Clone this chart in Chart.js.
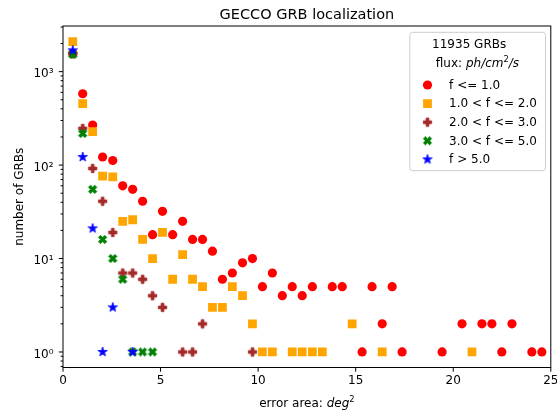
<!DOCTYPE html>
<html>
<head>
<meta charset="utf-8">
<script src="https://cdn.jsdelivr.net/npm/chart.js@4"></script>
<style>
  html, body { margin: 0; padding: 0; background: #fff; }
  #chart { display: block; }
</style>
</head>
<body>
<canvas id="chart" width="557" height="416"></canvas>
<script>
const titleText = 'GECCO GRB localization';
const yAxisTitle = 'number of GRBs';
const legendTitle = '11935 GRBs';
const seriesLabels = ['f <= 1.0', '1.0 < f <= 2.0', '2.0 < f <= 3.0', '3.0 < f <= 5.0', 'f > 5.0'];

// error area bins (deg^2) and counts
const redX = [0.50, 1.01, 1.52, 2.03, 2.55, 3.06, 3.57, 4.08, 4.59, 5.10, 5.62, 6.13, 6.64, 7.15, 7.66, 8.17, 8.68, 9.20, 9.71, 10.22,
  10.73, 11.24, 11.75, 12.26, 12.78, 13.80, 14.31, 15.33, 15.84, 16.36, 16.87, 17.38, 19.43, 20.45, 21.47, 21.98, 22.49, 23.01, 24.03, 24.54];
const redY = [1560, 580, 268, 122, 112, 60, 55, 41, 18, 32, 18, 25, 16, 16, 12, 6, 7, 9, 10, 5,
  7, 4, 5, 4, 5, 5, 5, 1, 5, 2, 5, 1, 1, 2, 2, 2, 1, 2, 1, 1];

const orangeX = [0.50, 1.01, 1.52, 2.03, 2.55, 3.06, 3.57, 4.08, 4.59, 5.10, 5.62, 6.13, 6.64, 7.15, 7.66, 8.17, 8.68, 9.20, 9.71, 10.22,
  10.73, 11.75, 12.26, 12.78, 13.29, 14.82, 16.36, 20.96];
const orangeY = [2100, 454, 228, 76, 75, 25, 26, 16, 10, 19, 6, 11, 6, 5, 3, 3, 5, 4, 2, 1,
  1, 1, 1, 1, 1, 2, 1, 1];

const brownX = [0.50, 1.01, 1.52, 2.03, 2.55, 3.06, 3.57, 4.08, 4.59, 5.10, 6.13, 6.64, 7.15, 9.71];
const brownY = [1550, 247, 92, 41, 19, 7, 7, 6, 4, 3, 1, 1, 2, 1];

const greenX = [0.50, 1.01, 1.52, 2.03, 2.55, 3.06, 3.57, 4.08, 4.59];
const greenY = [1530, 218, 55, 16, 10, 6, 1, 1, 1];

const blueX = [0.50, 1.01, 1.52, 2.03, 2.55, 3.57];
const blueY = [1690, 122, 21, 1, 3, 1];

const xTickValues = [0, 5, 10, 15, 20, 25];
const yMajorTicks = [1, 10, 100, 1000];
const yTickLabels = ['10\u2070', '10\u00b9', '10\u00b2', '10\u00b3'];

const FAMILY = '"DejaVu Sans", sans-serif';
const INK = '#000';

// minor ticks 1..9 per decade, like matplotlib's log axis
const yMin = 0.682, yMax = 3080;
const yTickValues = [];
for (let e = -1; e <= 3; e++) {
  for (let m = 1; m <= 9; m++) {
    const v = +(m * Math.pow(10, e)).toPrecision(3);
    if (v >= yMin && v <= yMax) yTickValues.push(v);
  }
}

// filled marker shapes (matplotlib 'P', 'X', '*')
function makeMarker(kind, color, size) {
  const c = document.createElement('canvas');
  c.width = c.height = Math.ceil(size) + 4;
  const g = c.getContext('2d');
  g.translate(c.width / 2, c.height / 2);
  let pts;
  if (kind === 'plus') {
    pts = [[-1,-3],[1,-3],[1,-1],[3,-1],[3,1],[1,1],[1,3],[-1,3],[-1,1],[-3,1],[-3,-1],[-1,-1]]
      .map(p => [p[0] * size / 6, p[1] * size / 6]);
  } else if (kind === 'x') {
    pts = [[-1,-2],[0,-1],[1,-2],[2,-1],[1,0],[2,1],[1,2],[0,1],[-1,2],[-2,1],[-1,0],[-2,-1]]
      .map(p => [p[0] * size / 4, p[1] * size / 4]);
  } else {
    pts = [];
    for (let i = 0; i < 10; i++) {
      const r = (i % 2 ? 0.381966 : 1) * size / 2;
      const ang = -Math.PI / 2 + i * Math.PI / 5;
      pts.push([r * Math.cos(ang), r * Math.sin(ang)]);
    }
  }
  g.beginPath();
  pts.forEach((p, i) => i ? g.lineTo(p[0], p[1]) : g.moveTo(p[0], p[1]));
  g.closePath();
  g.fillStyle = color;
  g.strokeStyle = color;
  g.lineWidth = 0.8;
  g.fill();
  g.stroke();
  return c;
}

const plusImg = makeMarker('plus', '#a52a2a', 8.4);
const xImg = makeMarker('x', '#008000', 8.4);
const starImg = makeMarker('star', '#0000ff', 10);

function points(xs, ys) {
  return xs.map((x, i) => ({ x: x, y: ys[i] }));
}

const datasets = [
  { label: seriesLabels[0], data: points(redX, redY), pointStyle: 'circle', pointRadius: 4.6,
    backgroundColor: '#ff0000', borderColor: '#ff0000', borderWidth: 0, order: 5 },
  { label: seriesLabels[1], data: points(orangeX, orangeY), pointStyle: 'rect', pointRadius: 6.2,
    backgroundColor: '#ffa500', borderColor: '#ffa500', borderWidth: 0, order: 4 },
  { label: seriesLabels[2], data: points(brownX, brownY), pointStyle: plusImg, pointRadius: 4,
    backgroundColor: '#a52a2a', borderColor: '#a52a2a', borderWidth: 0, order: 3 },
  { label: seriesLabels[3], data: points(greenX, greenY), pointStyle: xImg, pointRadius: 4,
    backgroundColor: '#008000', borderColor: '#008000', borderWidth: 0, order: 2 },
  { label: seriesLabels[4], data: points(blueX, blueY), pointStyle: starImg, pointRadius: 4,
    backgroundColor: '#0000ff', borderColor: '#0000ff', borderWidth: 0, order: 1 }
];

function drawRich(ctx, parts, x, y, center) {
  let w = 0;
  parts.forEach(p => { ctx.font = p.font; w += ctx.measureText(p.text).width; });
  let cx = center ? x - w / 2 : x;
  ctx.textAlign = 'left';
  ctx.textBaseline = 'alphabetic';
  parts.forEach(p => {
    ctx.font = p.font;
    ctx.fillText(p.text, cx, y + (p.dy || 0));
    cx += ctx.measureText(p.text).width;
  });
}

function drawMarker(ctx, ds, x, y) {
  const st = ds.pointStyle;
  ctx.fillStyle = ds.backgroundColor;
  if (st === 'circle') {
    ctx.beginPath();
    ctx.arc(x, y, ds.pointRadius, 0, Math.PI * 2);
    ctx.fill();
  } else if (st === 'rect') {
    const h = ds.pointRadius * Math.SQRT1_2;
    ctx.fillRect(x - h, y - h, 2 * h, 2 * h);
  } else {
    ctx.drawImage(st, x - st.width / 2, y - st.height / 2);
  }
}

const normal = '12px ' + FAMILY;
const italic = 'italic 12px ' + FAMILY;
const sup = '8.4px ' + FAMILY;

const overlay = {
  id: 'overlay',
  afterDraw(chart) {
    const { ctx, chartArea: a } = chart;
    const xs = chart.scales.x, ys = chart.scales.y;
    ctx.save();

    // frame
    ctx.strokeStyle = INK;
    ctx.lineWidth = 1;
    ctx.strokeRect(a.left, a.top, a.right - a.left, a.bottom - a.top);

    // tick marks (outside, shorter minors)
    ctx.beginPath();
    xs.ticks.forEach(t => {
      const px = xs.getPixelForValue(t.value);
      ctx.moveTo(px, a.bottom);
      ctx.lineTo(px, a.bottom + 4.2);
    });
    ys.ticks.forEach(t => {
      const py = ys.getPixelForValue(t.value);
      const len = yMajorTicks.includes(t.value) ? 4.2 : 2.4;
      ctx.moveTo(a.left, py);
      ctx.lineTo(a.left - len, py);
    });
    ctx.stroke();

    // title
    ctx.fillStyle = INK;
    ctx.font = '14.5px ' + FAMILY;
    ctx.textAlign = 'center';
    ctx.textBaseline = 'alphabetic';
    ctx.fillText(titleText, (a.left + a.right) / 2, a.top - 6.7);

    // x axis label
    drawRich(ctx, [
      { text: 'error area: ', font: normal },
      { text: 'deg', font: italic },
      { text: '2', font: sup, dy: -4.6 }
    ], (a.left + a.right) / 2, a.bottom + 39.2, true);

    // legend
    const w = 135.7, h = 138.4;
    const lx = a.right - 5.3 - w, ly = a.top + 6.3;
    ctx.beginPath();
    ctx.roundRect(lx, ly, w, h, 3);
    ctx.fillStyle = 'rgba(255,255,255,0.8)';
    ctx.fill();
    ctx.strokeStyle = '#cccccc';
    ctx.stroke();

    ctx.fillStyle = INK;
    drawRich(ctx, [{ text: legendTitle, font: normal }], lx + 22.3, ly + 16, false);
    drawRich(ctx, [
      { text: 'flux: ', font: normal },
      { text: 'ph/cm', font: italic },
      { text: '2', font: sup, dy: -4.6 },
      { text: '/s', font: italic }
    ], lx + 26, ly + 34.4, false);

    chart.data.datasets.forEach((ds, i) => {
      const ry = ly + 52.7 + i * 18.6;
      drawMarker(ctx, ds, lx + 17.7, ry);
      ctx.fillStyle = INK;
      drawRich(ctx, [{ text: ds.label, font: normal }], lx + 39.3, ry + 3.8, false);
    });

    ctx.restore();
  }
};

new Chart(document.getElementById('chart'), {
  type: 'scatter',
  data: { datasets: datasets },
  options: {
    responsive: false,
    devicePixelRatio: 1,
    animation: false,
    layout: { padding: { top: 26, right: 6, left: 0, bottom: 0 } },
    plugins: {
      legend: { display: false },
      title: { display: false },
      tooltip: { enabled: false }
    },
    scales: {
      x: {
        type: 'linear',
        min: 0,
        max: 25,
        afterBuildTicks: s => { s.ticks = xTickValues.map(v => ({ value: v })); },
        afterFit: s => { s.height = 48.5; s.paddingLeft = 0; s.paddingRight = 0; },
        grid: { display: false, drawTicks: true, tickLength: 4 },
        border: { display: false },
        ticks: { autoSkip: false, maxRotation: 0, padding: 2.5, color: INK, font: { family: FAMILY, size: 12 } }
      },
      y: {
        type: 'logarithmic',
        min: yMin,
        max: yMax,
        afterBuildTicks: s => { s.ticks = yTickValues.map(v => ({ value: v })); },
        afterFit: s => { s.width = 63; s.paddingTop = 0; s.paddingBottom = 0; },
        grid: { display: false, drawTicks: true, tickLength: 4 },
        border: { display: false },
        ticks: {
          autoSkip: false,
          padding: 5.5,
          labelOffset: 2.5,
          color: INK,
          font: { family: FAMILY, size: 12 },
          callback: v => {
            const i = yMajorTicks.indexOf(v);
            return i >= 0 ? yTickLabels[i] : '';
          }
        },
        title: {
          display: true,
          text: yAxisTitle,
          color: INK,
          font: { family: FAMILY, size: 12 },
          padding: { top: 12.6, bottom: 0 }
        }
      }
    }
  },
  plugins: [overlay]
});
</script>
</body>
</html>
